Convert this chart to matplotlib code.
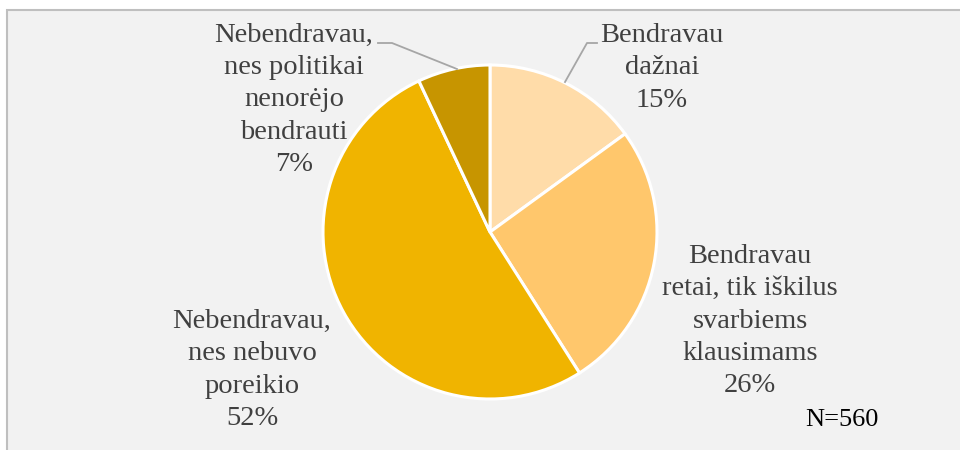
import matplotlib
matplotlib.use("Agg")
import matplotlib.pyplot as plt
from matplotlib.patches import Rectangle

labels = ["Bendravau\ndažnai", "Bendravau\nretai, tik iškilus\nsvarbiems\nklausimams",
          "Nebendravau,\nnes nebuvo\nporeikio", "Nebendravau,\nnes politikai\nnenorėjo\nbendrauti"]
values = [15, 26, 52, 7]
colors = ["#FFDCA9", "#FFC76C", "#F0B400", "#C79500"]

W, H = 960, 450
fig = plt.figure(figsize=(9.6, 4.5), dpi=100, facecolor="white")

# background panel with border
fig.patches.append(Rectangle((7 / W, -0.1), 1.1, 1 - 10 / H + 0.1, transform=fig.transFigure,
                             facecolor="#F2F2F2", edgecolor="#BFBFBF", linewidth=1.5, zorder=-5))

cx, cy, r = 490, 232, 167
ax = fig.add_axes([(cx - r) / W, (H - cy - r) / H, 2 * r / W, 2 * r / H])
ax.set_zorder(1)
ax.axis("off")
ax.set_facecolor("none")

ax.pie(values, colors=colors, startangle=90, counterclock=False, radius=1,
       wedgeprops=dict(edgecolor="white", linewidth=2.2))
ax.set_xlim(-1, 1)
ax.set_ylim(-1, 1)


def d(px, py):
    return (px - cx) / r, (cy - py) / r


font = dict(family="Liberation Serif", size=20.5, color="#404040", ha="center", va="center",
            linespacing=1.39)
label_pos = [(662, 68), (750, 321), (252, 370), (294, 100)]
for lab, v, (px, py) in zip(labels, values, label_pos):
    x, y = d(px, py)
    ax.text(x, y, f"{lab}\n{v}%", clip_on=False, **font)

# leader lines
lc = "#A6A6A6"
pts1 = [d(565, 82), d(587, 43), d(597, 43)]
ax.plot([p[0] for p in pts1], [p[1] for p in pts1], color=lc, lw=1.3, clip_on=False)
pts2 = [d(378, 43), d(392, 43), d(457, 69)]
ax.plot([p[0] for p in pts2], [p[1] for p in pts2], color=lc, lw=1.3, clip_on=False)

fig.text(842 / W, 1 - 420 / H, "N=560", family="Liberation Serif", size=19, color="black",
         ha="center", va="center")

fig.savefig("out.png", dpi=100, facecolor="white")
